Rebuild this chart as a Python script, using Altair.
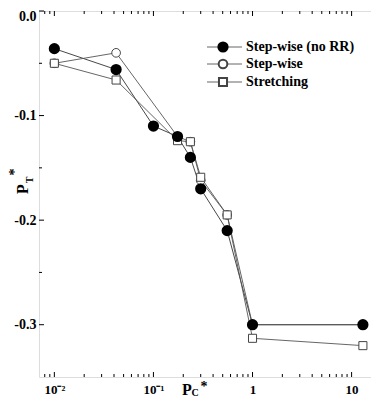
import altair as alt
import pandas as pd

# ---- data ----
series_names = ["Step-wise (no RR)", "Step-wise", "Stretching"]

norr_x = [0.01, 0.042, 0.1, 0.175, 0.236, 0.30, 0.555, 1.0, 13.0]
norr_y = [-0.036, -0.056, -0.11, -0.12, -0.14, -0.17, -0.21, -0.30, -0.30]

step_x = [0.01, 0.042, 0.175, 0.236, 0.30, 0.555, 1.0, 13.0]
step_y = [-0.05, -0.04, -0.12, -0.125, -0.162, -0.195, -0.30, -0.30]

str_x = [0.01, 0.042, 0.175, 0.236, 0.30, 0.555, 1.0, 13.0]
str_y = [-0.05, -0.066, -0.124, -0.125, -0.159, -0.195, -0.313, -0.32]

x_major = [0.01, 0.1, 1, 10]
x_minor = [0.008, 0.009, 0.02, 0.03, 0.04, 0.05, 0.06, 0.07, 0.08, 0.09,
           0.2, 0.3, 0.4, 0.5, 0.6, 0.7, 0.8, 0.9,
           2, 3, 4, 5, 6, 7, 8, 9]
y_major = [0.0, -0.1, -0.2, -0.3]
y_minor = [-0.05, -0.15, -0.25]

W, H = 340, 366
SERIF = "Liberation Serif"

xscale = alt.Scale(type="log", domain=[0.007, 18.9], nice=False)
yscale = alt.Scale(domain=[-0.35, 0.0], nice=False, zero=False)

d_norr = pd.DataFrame({"x": norr_x, "y": norr_y})
d_step = pd.DataFrame({"x": step_x, "y": step_y})
d_str = pd.DataFrame({"x": str_x, "y": str_y})

X = alt.X("x:Q", scale=xscale, axis=alt.Axis(
    values=x_major, ticks=False, domain=False, grid=False, title=None,
    labelExpr="datum.value < 0.05 ? '10⁻²' : datum.value < 0.5 ? '10⁻¹' : datum.value < 5 ? '1' : '10'",
    labelFont=SERIF, labelFontSize=13, labelFontWeight="bold", labelColor="black",
    labelPadding=6))
Y = alt.Y("y:Q", scale=yscale, axis=alt.Axis(
    values=y_major, ticks=False, domain=False, grid=False, title=None,
    labelExpr="datum.value == 0 ? '0.0' : '-' + format(-datum.value, '.1f')",
    labelFont=SERIF, labelFontSize=14, labelFontWeight="bold", labelColor="black",
    labelPadding=3, labelFlush=True, labelFlushOffset=2))

line_norr = alt.Chart(d_norr).mark_line(color="#333333", strokeWidth=0.9).encode(x=X, y=Y)
line_step = alt.Chart(d_step).mark_line(color="#555555", strokeWidth=0.9).encode(x=X, y=Y)
line_str = alt.Chart(d_str).mark_line(color="#555555", strokeWidth=0.9).encode(x=X, y=Y)

pt_step = alt.Chart(d_step).mark_point(shape="circle", filled=True, fill="white",
                                       stroke="#444444", strokeWidth=1, size=75, opacity=1).encode(x=X, y=Y)
pt_str = alt.Chart(d_str).mark_point(shape="square", filled=True, fill="white",
                                     stroke="#444444", strokeWidth=1, size=65, opacity=1).encode(x=X, y=Y)
pt_norr = alt.Chart(d_norr).mark_point(shape="circle", filled=True, fill="black",
                                       stroke="black", size=85, opacity=1).encode(x=X, y=Y)

# ---- inward ticks ----
dxM = pd.DataFrame({"x": x_major})
dxm = pd.DataFrame({"x": x_minor})
dyM = pd.DataFrame({"y": y_major})
dym = pd.DataFrame({"y": y_minor})

tick_style = dict(color="black", strokeWidth=1)
ticks = [
    alt.Chart(dxM).mark_rule(**tick_style).encode(x=X, y=alt.value(H), y2=alt.value(H - 5)),
    alt.Chart(dxm).mark_rule(**tick_style).encode(x=X, y=alt.value(H), y2=alt.value(H - 3)),
    alt.Chart(dxM).mark_rule(**tick_style).encode(x=X, y=alt.value(0), y2=alt.value(5)),
    alt.Chart(dxm).mark_rule(**tick_style).encode(x=X, y=alt.value(0), y2=alt.value(3)),
    alt.Chart(dyM).mark_rule(**tick_style).encode(y=Y, x=alt.value(0), x2=alt.value(5)),
    alt.Chart(dym).mark_rule(**tick_style).encode(y=Y, x=alt.value(0), x2=alt.value(3)),
    alt.Chart(dyM).mark_rule(**tick_style).encode(y=Y, x=alt.value(W - 5), x2=alt.value(W)),
]

# ---- axis titles (P with subscript and asterisk) ----
def txt(s, x, y, size, angle=0, baseline="middle"):
    kw = dict(text=s, font=SERIF, fontSize=size, fontWeight="bold", color="black",
              align="center", baseline=baseline)
    if angle:
        kw["angle"] = angle
    return alt.Chart(pd.DataFrame({"a": [0]})).mark_text(**kw).encode(
        x=alt.value(x), y=alt.value(y))

titles = [
    txt("P", 148, 379, 16),
    txt("C", 156, 382, 10),
    txt("*", 165, 376, 14),
    txt("P", -16, 178, 16, angle=270),
    txt("T", -9, 169, 10, angle=270),
    txt("*", -24, 161, 14, angle=270),
]

# ---- legend ----
leg_rows = [36, 53, 71]
leg = []
fills = ["black", "white", "white"]
shapes = ["circle", "circle", "square"]
sizes = [85, 75, 65]
for name, yy, f, sh, sz in zip(series_names, leg_rows, fills, shapes, sizes):
    base = alt.Chart(pd.DataFrame({"name": [name]}))
    leg.append(base.mark_rule(color="#555555", strokeWidth=0.9).encode(
        x=alt.value(168), x2=alt.value(203), y=alt.value(yy)))
    leg.append(base.mark_point(shape=sh, filled=True, fill=f,
                               stroke="black" if f == "black" else "#444444",
                               size=sz, opacity=1).encode(x=alt.value(184), y=alt.value(yy)))
    leg.append(base.mark_text(align="left", baseline="middle", font=SERIF, fontSize=14,
                              fontWeight="bold", color="black").encode(
        x=alt.value(207), y=alt.value(yy), text="name:N"))

chart = alt.layer(
    line_norr, line_step, line_str, pt_step, pt_str, pt_norr, *ticks, *titles, *leg
).properties(
    width=W, height=H,
    autosize=alt.AutoSizeParams(type="none"),
    padding={"left": 31, "top": 3, "right": -8, "bottom": 21},
).configure_view(stroke="black", strokeWidth=1.5).configure(background="white")

chart.save("out.html", embed_options={"renderer": "svg", "actions": False})
